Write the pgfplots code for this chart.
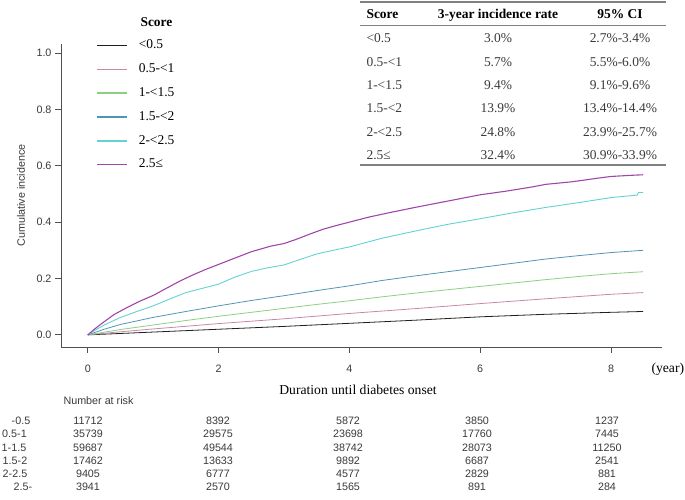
\documentclass[border=0pt]{standalone}
\usepackage{fontspec}
\setmainfont{Liberation Serif}
\setsansfont{Liberation Sans}
\usepackage{pgfplots}
\pgfplotsset{compat=1.18}

\definecolor{axisgray}{HTML}{505050}
\definecolor{labgray}{HTML}{3A3A3A}
\definecolor{cblack}{HTML}{202020}
\definecolor{cpink}{HTML}{C886AA}
\definecolor{cgreen}{HTML}{8CCF82}
\definecolor{cblue}{HTML}{5096B4}
\definecolor{ccyan}{HTML}{64D2D2}
\definecolor{cpurple}{HTML}{A046AA}
\definecolor{rulegray}{HTML}{808080}

\newcommand{\serif}{\rmfamily\fontsize{13.5}{15}\selectfont}
\newcommand{\smallsans}{\sffamily\fontsize{10.8}{12}\selectfont}

\begin{document}
\begin{tikzpicture}[x=1bp,y=1bp]
\useasboundingbox (0,0) rectangle (685,500);

\begin{axis}[
  at={(61bp,153bp)}, anchor=south west,
  scale only axis, width=601bp, height=303bp,
  xmin=-0.41, xmax=8.78, ymin=-0.043, ymax=1.032,
  axis x line*=bottom, axis y line*=left,
  axis line style={color=axisgray, line width=0.9bp},
  tick style={color=axisgray, line width=0.9bp},
  tick align=outside, major tick length=6bp,
  xtick={0,2,4,6,8}, ytick={0,0.2,0.4,0.6,0.8,1},
  /pgf/number format/assume math mode=true,
  yticklabel style={/pgf/number format/.cd, fixed, fixed zerofill, precision=1},
  ticklabel style={font=\smallsans, text=labgray},
  xticklabel style={anchor=center, yshift=-16bp},
  legend image code/.code={\draw[#1, line width=1.6bp] (0bp,0bp) -- (30bp,0bp);},
  legend cell align=left,
  legend style={draw=none, fill=none, at={(0.0582,1.016)}, anchor=north west,
    font=\serif, inner sep=0pt, row sep=11.3bp, column sep=11bp,
    nodes={inner sep=0pt, text height=9.5bp, text depth=3bp}},
]
\addplot[color=cblack, line width=0.8bp] coordinates {
  (0,0) (1,0.010) (2,0.020) (3,0.030) (4,0.041) (5,0.052) (6,0.064) (7,0.073) (8,0.080) (8.49,0.083)
};
\addlegendentry{<0.5}
\addplot[color=cpink, line width=0.8bp] coordinates {
  (0,0) (0.5,0.011) (1,0.021) (2,0.040) (3,0.057) (4,0.076) (5,0.093) (6,0.111) (7,0.128) (8,0.144) (8.49,0.150)
};
\addlegendentry{0.5-<1}
\addplot[color=cgreen, line width=0.8bp] coordinates {
  (0,0) (0.5,0.019) (1,0.035) (1.5,0.051) (2,0.066) (2.5,0.080) (3,0.094) (3.5,0.108) (4,0.121)
  (4.5,0.135) (5,0.148) (5.5,0.160) (6,0.172) (6.5,0.184) (7,0.196) (7.5,0.207) (8,0.217) (8.49,0.224)
};
\addlegendentry{1-<1.5}
\addplot[color=cblue, line width=0.8bp] coordinates {
  (0,0) (0.25,0.020) (0.5,0.037) (1.0,0.062) (1.5,0.083) (2.0,0.103) (2.5,0.122) (3.0,0.139) (3.5,0.157)
  (4.0,0.174) (4.5,0.193) (5.0,0.209) (5.5,0.224) (6.0,0.239) (6.5,0.254) (7.0,0.269) (7.5,0.281)
  (8.0,0.292) (8.49,0.300)
};
\addlegendentry{1.5-<2}
\addplot[color=ccyan, line width=0.9bp] coordinates {
  (0,0) (0.1,0.015) (0.25,0.035) (0.5,0.062) (0.75,0.083) (1.0,0.103) (1.25,0.127) (1.5,0.150)
  (1.75,0.165) (2.0,0.180) (2.25,0.205) (2.5,0.225) (2.75,0.238) (3.0,0.248) (3.25,0.268) (3.5,0.287)
  (3.75,0.300) (4.0,0.312) (4.5,0.343) (5.0,0.368) (5.5,0.392) (6.0,0.412) (6.5,0.433) (7.0,0.452)
  (7.5,0.469) (8.0,0.487) (8.4,0.496) (8.42,0.505) (8.49,0.505)
};
\addlegendentry{2-<2.5}
\addplot[color=cpurple, line width=1.1bp] coordinates {
  (0,0) (0.1,0.020) (0.2,0.038) (0.4,0.072) (0.6,0.097) (0.8,0.120) (1.0,0.140) (1.2,0.165) (1.4,0.190)
  (1.6,0.212) (1.8,0.232) (2.0,0.250) (2.2,0.268) (2.5,0.295) (2.8,0.315) (3.0,0.324) (3.2,0.340)
  (3.4,0.358) (3.6,0.375) (3.8,0.388) (4.0,0.400) (4.3,0.418) (4.6,0.433) (5.0,0.452) (5.4,0.470)
  (5.8,0.488) (6.0,0.497) (6.4,0.510) (6.8,0.525) (7.0,0.534) (7.4,0.543) (7.8,0.556) (8.0,0.562)
  (8.3,0.566) (8.49,0.568)
};
\addlegendentry{2.5≤}
\end{axis}

% axis titles
\node[font=\smallsans, text=labgray, rotate=90, anchor=center] at (21,304.5) {Cumulative incidence};
\node[font=\rmfamily\fontsize{13.7}{15}\selectfont, anchor=base] at (358,105.5) {Duration until diabetes onset};
\node[font=\rmfamily\fontsize{13.7}{15}\selectfont, anchor=base west] at (648,127.5) {(year)};

% legend title
\node[font=\serif\bfseries, anchor=base west] at (137,473.5) {Score};

% incidence table
\draw[rulegray, line width=1.8bp] (360,498) -- (666,498);
\draw[rulegray, line width=0.8bp] (360,475) -- (666,475);
\draw[rulegray, line width=1.8bp] (360,335) -- (666,335);
\node[font=\serif\bfseries, anchor=base west] at (363,481.5) {Score};
\node[font=\serif\bfseries, anchor=base] at (498,481.5) {3-year incidence rate};
\node[font=\serif\bfseries, anchor=base] at (620,481.5) {95\% CI};
\foreach \yy/\s/\r/\ci in {
  457.5/<0.5/3.0\%/2.7\%-3.4\%,
  433.5/0.5-<1/5.7\%/5.5\%-6.0\%,
  410.5/1-<1.5/9.4\%/9.1\%-9.6\%,
  387.5/1.5-<2/13.9\%/13.4\%-14.4\%,
  363.5/2-<2.5/24.8\%/23.9\%-25.7\%,
  340.5/2.5≤/32.4\%/30.9\%-33.9\%} {
  \node[font=\serif, text=labgray, anchor=base west] at (363,\yy) {\s};
  \node[font=\serif, text=labgray, anchor=base] at (498,\yy) {\r};
  \node[font=\serif, text=labgray, anchor=base] at (620,\yy) {\ci};
}

% number at risk
\node[font=\smallsans, text=labgray, anchor=base west] at (60,95.1) {Number at risk};
\foreach \yy/\lx/\lab/\a/\b/\c/\d/\e in {
  75.1/21/-0.5/11712/8392/5872/3850/1237,
  62.1/14.5/0.5-1/35739/29575/23698/17760/7445,
  48.1/14/1-1.5/59687/49544/38742/28073/11250,
  35.1/15/1.5-2/17462/13633/9892/6687/2541,
  22.1/15/2-2.5/9405/6777/4577/2829/881,
  9.1/23/2.5-/3941/2570/1565/891/284} {
  \node[font=\smallsans, text=labgray, anchor=base] at (\lx,\yy) {\lab};
  \node[font=\smallsans, text=labgray, anchor=base] at (88,\yy) {\a};
  \node[font=\smallsans, text=labgray, anchor=base] at (218,\yy) {\b};
  \node[font=\smallsans, text=labgray, anchor=base] at (348,\yy) {\c};
  \node[font=\smallsans, text=labgray, anchor=base] at (477,\yy) {\d};
  \node[font=\smallsans, text=labgray, anchor=base] at (607,\yy) {\e};
}
\end{tikzpicture}
\end{document}
